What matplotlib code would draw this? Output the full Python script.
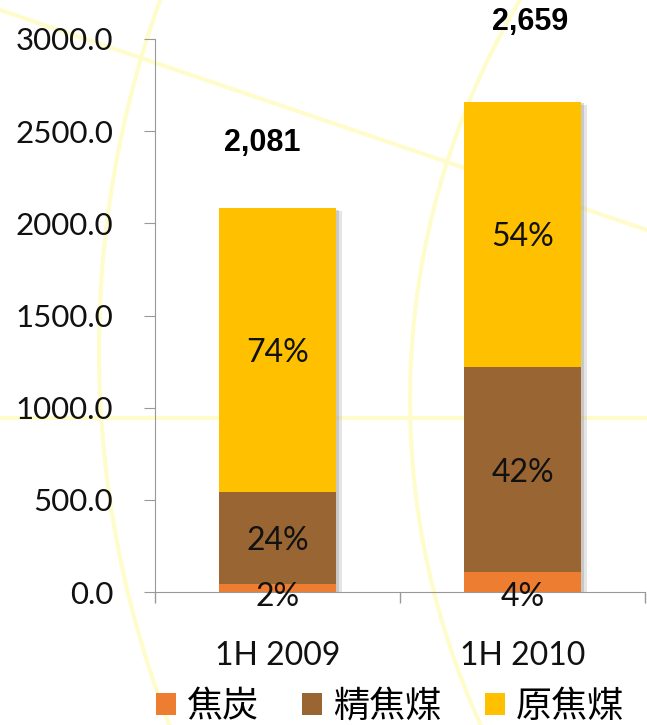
import matplotlib
matplotlib.use("Agg")
import matplotlib.pyplot as plt
import matplotlib.patheffects as pe
from matplotlib.patches import Arc
from matplotlib.lines import Line2D
import numpy as np

# data
periods = ["1H 2009", "1H 2010"]
series_names = ["焦炭", "精焦煤", "原焦煤"]
coke = [42, 106]
clean_coal = [500, 1117]
raw_coal = [1539, 1436]
pct_coke = ["2%", "4%"]
pct_clean = ["24%", "42%"]
pct_raw = ["74%", "54%"]
totals = ["2,081", "2,659"]

colors = ["#ED7D31", "#996633", "#FFC000"]

W, H = 647, 725
fig = plt.figure(figsize=(W / 100, H / 100), dpi=100)

# faint slide background decoration (pixel coords)
bg = fig.add_axes([0, 0, 1, 1], zorder=0)
bg.set_xlim(0, W)
bg.set_ylim(H, 0)
bg.axis("off")
deco = "#FFFCCC"
bg.add_line(Line2D([0, W], [418, 418], color=deco, lw=3))
bg.add_line(Line2D([0, W], [10, 230], color=deco, lw=3))
bg.add_patch(Arc((99 + 1034, 350), 2 * 1034, 2 * 1034, color=deco, lw=3))
bg.add_patch(Arc((410 + 782, 400), 2 * 782, 2 * 782, color=deco, lw=3))

ax = fig.add_axes([155 / W, 1 - 592 / H, 490 / W, 553 / H], zorder=1)
ax.patch.set_alpha(0)

x = np.arange(len(periods))
width = 0.48
total_vals = np.array(coke) + np.array(clean_coal) + np.array(raw_coal)

# soft drop shadow behind the whole stack
ax.bar(x, total_vals, width, color="none", zorder=1,
       path_effects=[pe.SimplePatchShadow(offset=(4, -2), shadow_rgbFace="#999999", alpha=0.25),
                     pe.SimplePatchShadow(offset=(2, -1), shadow_rgbFace="#888888", alpha=0.3)])

bottom = np.zeros(len(periods))
for vals, name, col in zip([coke, clean_coal, raw_coal], series_names, colors):
    ax.bar(x, vals, width, bottom=bottom, color=col, label=name, zorder=2)
    bottom += np.array(vals)

num_font = dict(family="Lato", fontsize=23, color="#111111")
base = np.zeros(len(periods))
for vals, labels in zip([coke, clean_coal, raw_coal], [pct_coke, pct_clean, pct_raw]):
    for i in range(len(periods)):
        y = base[i] + vals[i] / 2
        if vals[i] < 150:
            y = base[i] - 10
        ax.text(x[i], y, labels[i], ha="center", va="center_baseline", zorder=3, **num_font)
    base += np.array(vals)

# totals (placed as in the slide)
ax.text(-0.063, 2435, totals[0], ha="center", va="center", fontsize=22,
        fontweight="bold", family="Liberation Sans", clip_on=False)
ax.text(1.03, 3092, totals[1], ha="center", va="center", fontsize=22,
        fontweight="bold", family="Liberation Sans", clip_on=False)

ax.set_xlim(-0.5, 1.5)
ax.set_ylim(0, 3000)
ax.set_yticks(np.arange(0, 3001, 500))
ax.set_yticklabels([f"{v:.1f}" for v in np.arange(0, 3001, 500)])
ax.set_xticks([-0.5, 0.5, 1.5])
ax.set_xticklabels([])
ax.set_xticks(x, minor=True)
ax.set_xticklabels(periods, minor=True)
ax.tick_params(axis="x", which="major", length=8, color="#999999", width=1)
ax.tick_params(axis="x", which="minor", length=0, pad=35, labelsize=23, labelcolor="#111111")
ax.tick_params(axis="y", length=8, color="#999999", pad=22, labelsize=22.5, labelcolor="#111111")
for lab in ax.get_xticklabels(minor=True) + ax.get_yticklabels():
    lab.set_family("Lato")

for s in ["top", "right"]:
    ax.spines[s].set_visible(False)
ax.spines["left"].set_color("#999999")
ax.spines["bottom"].set_color("#999999")

leg = fig.legend(loc="center", bbox_to_anchor=(390 / W, 1 - 707 / H), ncol=3, frameon=False,
                 handlelength=0.55, handleheight=0.55, handletextpad=0.3, columnspacing=1.2,
                 prop={"family": ["Noto Sans CJK TC", "DejaVu Sans"], "size": 26, "weight": "light"})

fig.savefig("out.png", dpi=100)
